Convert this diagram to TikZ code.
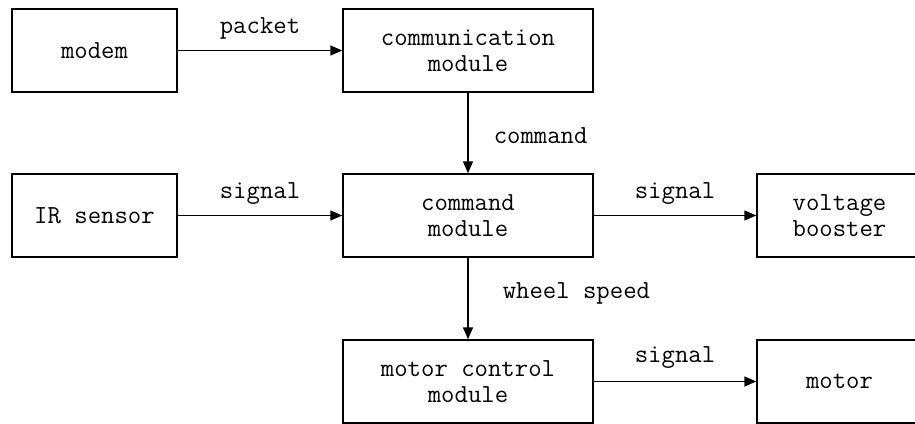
\documentclass[tikz,border=0pt]{standalone}
\usetikzlibrary{arrows.meta}

\tikzset{
    bloque/.style={draw, line width=0.75pt, minimum width=82.5pt,
        minimum height=41.5pt, inner sep=0pt, align=center,
        font=\ttfamily\fontsize{13pt}{13pt}\selectfont},
    ancho/.style={minimum width=125pt},
    flecha/.style={-{Triangle[length=6pt,width=5pt]}, line width=0.75pt},
    etiqueta/.style={inner sep=0pt, font=\ttfamily\fontsize{13pt}{13pt}\selectfont}
}

\begin{document}
\begin{tikzpicture}[x=0.5pt,y=-0.5pt]
        % Marco de la figura
        \useasboundingbox (0,0) rectangle (915,423);
        \clip (0,0) rectangle (915,423);

        % Bloques de la columna izquierda
        \node[bloque] (modem) at (94.5,50.5) {modem};
        \node[bloque] (sensor) at (94.5,215.5) {IR sensor};

        % Bloques de la columna central
        \node[bloque, ancho] (comunicacion) at (468,50.5) {communication\\module};
        \node[bloque, ancho] (comando) at (468,215.5) {command\\module};
        \node[bloque, ancho] (control) at (468,381.5) {motor control\\module};

        % Bloques de la columna derecha
        \node[bloque] (elevador) at (839.5,215.5) {voltage\\booster};
        \node[bloque] (motor) at (839.5,381.5) {motor};

        % Flechas horizontales con su etiqueta
        \draw[flecha] (modem) -- node[etiqueta, yshift=11pt] (paquete) {packet} (comunicacion);
        \draw[flecha] (sensor) -- node[etiqueta, yshift=11pt] (senalA) {signal} (comando);
        \draw[flecha] (comando) -- node[etiqueta, yshift=11pt] (senalB) {signal} (elevador);
        \draw[flecha] (control) -- node[etiqueta, yshift=12pt] (senalC) {signal} (motor);

        % Flechas verticales con su etiqueta
        \draw[flecha] (comunicacion) -- node[etiqueta, anchor=west, xshift=12.5pt, yshift=-1.5pt] (orden) {command} (comando);
        \draw[flecha] (comando) -- node[etiqueta, anchor=west, xshift=17pt, yshift=2.75pt] (velocidad) {wheel speed} (control);
    \end{tikzpicture}
\end{document}
